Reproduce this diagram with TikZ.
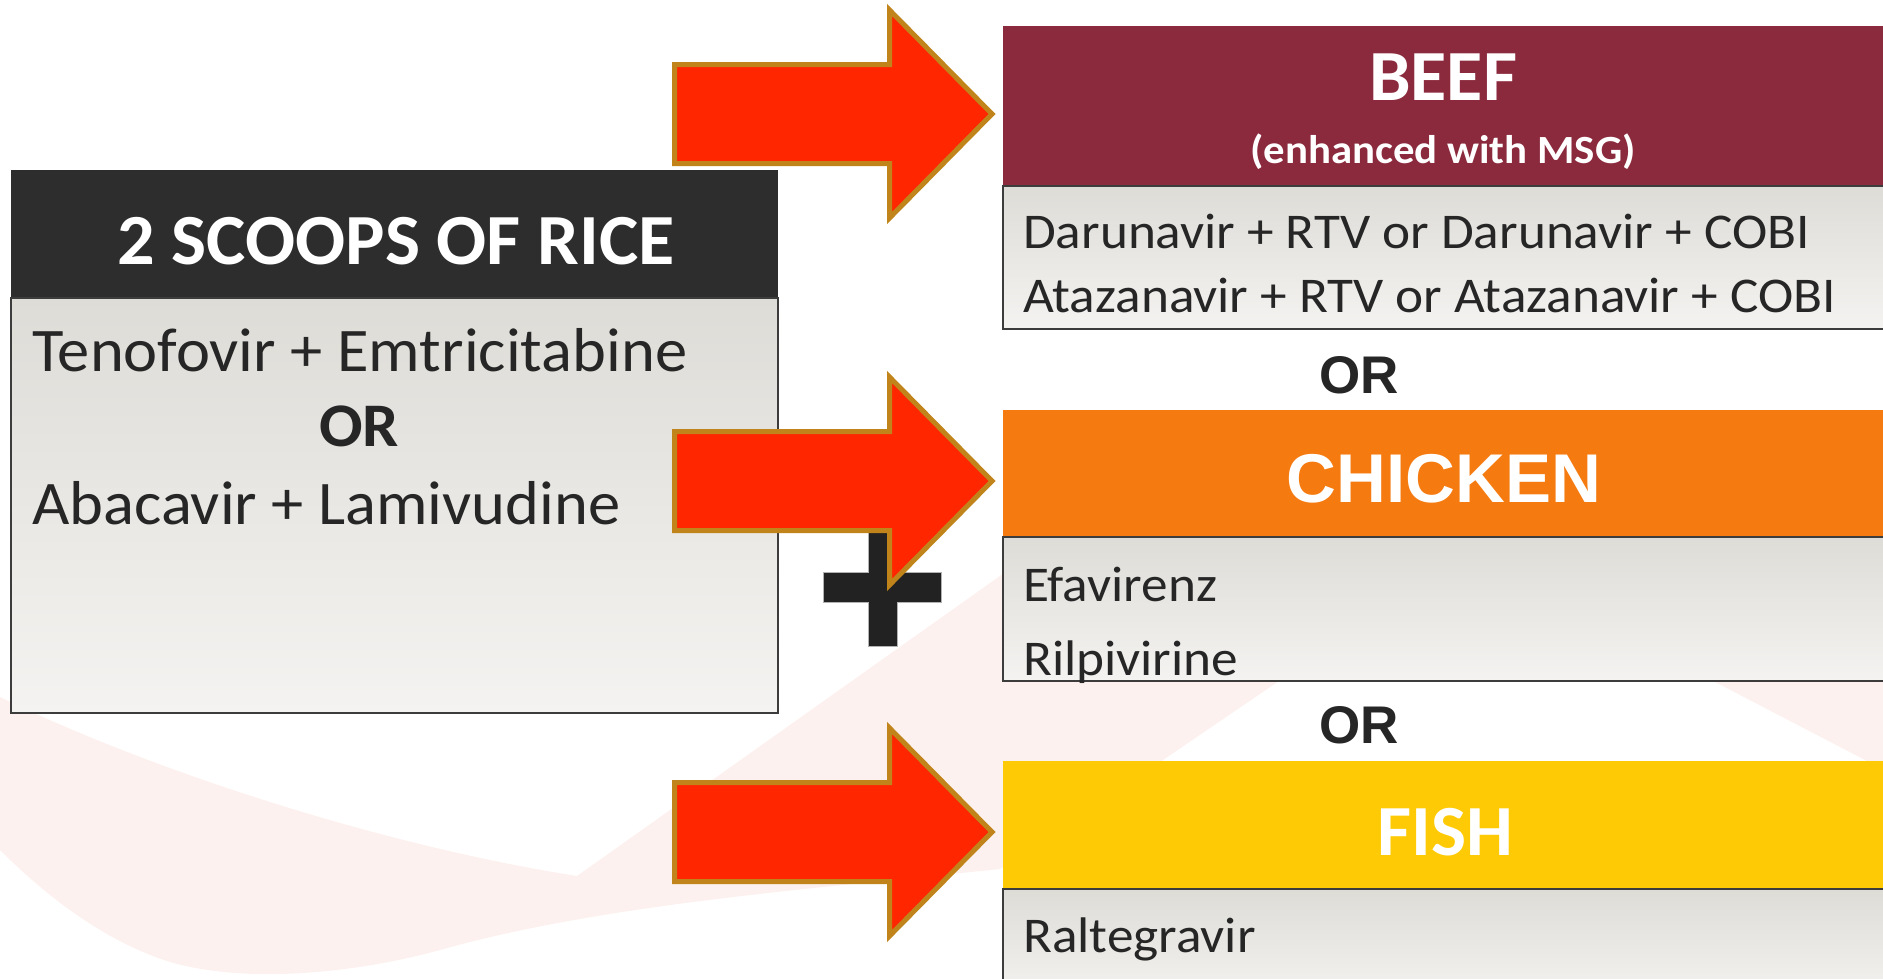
\documentclass[tikz,border=0pt]{standalone}
\usepackage{fontspec}
\setmainfont{Carlito}
\newfontfamily\arialfont{Liberation Sans}
\newfontfamily\leftfont{Carlito}[FakeStretch=1.04]
\newfontfamily\rightfont{Carlito}[FakeStretch=1.065]
\newfontfamily\titlefont{Carlito}[FakeStretch=1.03]
\newfontfamily\msgfont{Carlito}[FakeStretch=1.07]
\definecolor{hdrdark}{HTML}{2D2D2D}
\definecolor{beef}{HTML}{8B293D}
\definecolor{chicken}{HTML}{F57A0F}
\definecolor{fish}{HTML}{FECA05}
\definecolor{bodytop}{HTML}{DEDCD7}
\definecolor{bodybot}{HTML}{F4F3F1}
\definecolor{boxedge}{HTML}{3C3C3C}
\definecolor{arrowred}{HTML}{FF2600}
\definecolor{arrowedge}{HTML}{C1841A}
\definecolor{swoosh}{HTML}{FDF1EF}
\definecolor{txt}{HTML}{262626}
\definecolor{plusfill}{HTML}{222222}
\newcommand\redarrow[2]{%
  \coordinate (#1tail) at (674.5,#2);
  \coordinate (#1tip) at (992,#2);
  \filldraw[redarrowstyle] (674.5,#2-49.5) -- (889.5,#2-49.5) -- (889.5,#2-104) -- (#1tip)
    -- (889.5,#2+104) -- (889.5,#2+49.5) -- (#1tail |- 0,#2+49.5) -- cycle;}
\begin{document}
\begin{tikzpicture}[x=1pt,y=-1pt,
  headbox/.style={inner sep=0pt, outer sep=0pt, draw=none, anchor=north west},
  bodybox/.style={inner sep=0pt, outer sep=0pt, draw=boxedge, line width=2.5pt,
    top color=bodytop, bottom color=bodybot, anchor=north west},
  redarrowstyle/.style={fill=arrowred, draw=arrowedge, line width=5pt, line join=miter},
  bigtitle/.style={inner sep=0pt, anchor=base, text=white, font=\titlefont\fontsize{72pt}{80pt}\selectfont\bfseries},
  leftbody/.style={inner sep=0pt, anchor=base west, text=txt, font=\leftfont\fontsize{62pt}{70pt}\selectfont},
  rightbody/.style={inner sep=0pt, anchor=base west, text=txt, font=\rightfont\fontsize{50pt}{58pt}\selectfont},
  ortext/.style={inner sep=0pt, anchor=base, text=txt, font=\arialfont\fontsize{53pt}{60pt}\selectfont\bfseries}]
\useasboundingbox (0,0) rectangle (1883,978);
\clip (0,0) rectangle (1883,978);
% background swoosh
\fill[swoosh] (0,697) .. controls (150,770) and (380,845) .. (577,876) -- (1100,505) -- (1890,505)
  -- (1890,773) -- (1467,553) -- (1163,760) -- (1000,869)
  .. controls (800,890) and (600,905) .. (440,950)
  .. controls (360,972) and (250,985) .. (170,962)
  .. controls (100,940) and (40,890) .. (0,850) -- cycle;
% left box
\node[headbox, fill=hdrdark, minimum width=767pt, minimum height=128pt] (ricehead) at (11,170) {};
\node[bodybox, minimum width=767pt, minimum height=415pt] (ricebody) at (11,298) {};
\node[bigtitle] (ricetitle) at (396,264) {2 SCOOPS OF RICE};
\node[leftbody] (teno) at (32,371) {Tenofovir + Emtricitabine};
\node[inner sep=0pt, anchor=base, text=txt, font=\leftfont\fontsize{62pt}{70pt}\selectfont\bfseries] (orleft) at (359,446) {OR};
\node[leftbody] (abac) at (32,524) {Abacavir + Lamivudine};
% plus sign
\coordinate (plus) at (882,587);
\filldraw[fill=plusfill, draw=gray!60, line width=1pt] (868,529) -- (897,529) -- (897,572) -- (941,572)
  -- (941,602) -- (897,602) -- (897,646) -- (868,646) -- (868,602) -- (823,602) -- (823,572)
  -- (868,572) -- cycle;
% arrows
\redarrow{aone}{114}
\redarrow{atwo}{481}
\redarrow{athree}{832}
% beef
\node[headbox, fill=beef, minimum width=890pt, minimum height=160pt] (beefhead) at (1003,26) {};
\node[bodybox, minimum width=890pt, minimum height=143pt] (beefbody) at (1003,186) {};
\node[bigtitle] (beeft) at (1443,100) {BEEF};
\node[inner sep=0pt, anchor=base, text=white, font=\msgfont\fontsize{40pt}{46pt}\selectfont\bfseries] (msg) at (1443,163) {(enhanced with MSG)};
\node[rightbody] (daru) at (1023,248) {Darunavir + RTV or Darunavir + COBI};
\node[rightbody] (ataz) at (1023,312) {Atazanavir + RTV or Atazanavir + COBI};
\node[ortext] (orone) at (1359,393) {OR};
% chicken
\node[headbox, fill=chicken, minimum width=890pt, minimum height=127pt] (chickhead) at (1003,410) {};
\node[bodybox, minimum width=890pt, minimum height=144pt] (chickbody) at (1003,537) {};
\node[inner sep=0pt, anchor=base, text=white, font=\arialfont\fontsize{69pt}{76pt}\selectfont\bfseries] (chickt) at (1444,502) {CHICKEN};
\node[rightbody] (efav) at (1023,601) {Efavirenz};
\node[rightbody] (rilp) at (1023,675) {Rilpivirine};
\node[ortext] (ortwo) at (1359,743) {OR};
% fish
\node[headbox, fill=fish, minimum width=890pt, minimum height=128pt] (fishhead) at (1003,761) {};
\node[bodybox, minimum width=890pt, minimum height=110pt] (fishbody) at (1003,889) {};
\node[bigtitle] (fisht) at (1445,855) {FISH};
\node[rightbody] (ralt) at (1023,952) {Raltegravir};
\end{tikzpicture}
\end{document}
